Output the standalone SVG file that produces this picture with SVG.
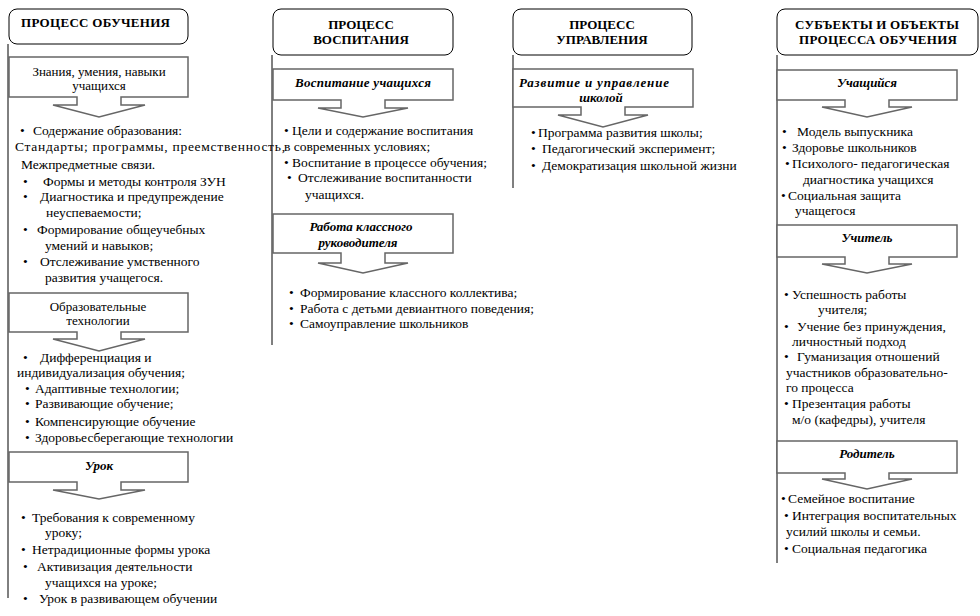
<svg xmlns="http://www.w3.org/2000/svg" width="980" height="616" viewBox="0 0 980 616" font-family="'Liberation Serif', 'Times New Roman', serif">
<style>
  text { font-family: "Liberation Serif", "Times New Roman", serif; font-size: 13.5px; fill: #000; }
  .h { font-weight: bold; font-size: 13px; }
  .c { text-anchor: middle; font-size: 13px; }
  .bi { font-weight: bold; font-style: italic; }
  .hdr { fill: #fff; stroke: #000; stroke-width: 1; }
  .call { fill: #fff; stroke: #666; stroke-width: 1.5; stroke-linejoin: miter; }
  .ln { stroke: #000; stroke-width: 1; fill: none; }
</style>
<rect width="980" height="616" fill="#fff"/>

<g id="connectors">
  <line class="ln" x1="8" y1="44" x2="8" y2="598"/>
  <line class="ln" x1="272" y1="55" x2="272" y2="345"/>
  <line class="ln" x1="513" y1="55" x2="513" y2="188"/>
  <line class="ln" x1="777" y1="55" x2="777" y2="563"/>
</g>

<!-- Column 1 -->
<g id="hdr-obuchenie">
  <rect class="hdr" x="9" y="9" width="179" height="35" rx="8"/>
  <text class="h" x="21" y="27" textLength="149">ПРОЦЕСС  ОБУЧЕНИЯ</text>
</g>
<g id="box-znaniya">
  <path class="call" d="M9 57 H188 V97 H121 V105 H145 L99 117 L53 105 H77 V97 H9 Z"/>
  <text class="c" x="99" y="76">Знания, умения, навыки</text>
  <text class="c" x="99" y="90">учащихся</text>
</g>
<g id="list-znaniya">
  <text x="20" y="135">•</text><text x="33" y="135">Содержание образования:</text>
  <text x="15" y="151" textLength="270">Стандарты; программы, преемственность,</text>
  <text x="21" y="169">Межпредметные связи.</text>
  <text x="23" y="186">•</text><text x="43" y="186">Формы и методы контроля ЗУН</text>
  <text x="23" y="201">•</text><text x="40" y="201">Диагностика и предупреждение</text>
  <text x="46" y="217">неуспеваемости;</text>
  <text x="23" y="234">•</text><text x="37" y="234">Формирование общеучебных</text>
  <text x="45" y="250">умений и навыков;</text>
  <text x="23" y="266">•</text><text x="40" y="266">Отслеживание умственного</text>
  <text x="45" y="282">развития  учащегося.</text>
</g>
<g id="box-tech">
  <path class="call" d="M9 293 H188 V332 H121 V339 H145 L99 351 L53 339 H77 V332 H9 Z"/>
  <text class="c" x="98" y="311">Образовательные</text>
  <text class="c" x="98" y="325">технологии</text>
</g>
<g id="list-tech">
  <text x="23" y="362">•</text><text x="40" y="362">Дифференциация  и</text>
  <text x="17" y="377">индивидуализация обучения;</text>
  <text x="25" y="393">•</text><text x="35" y="393">Адаптивные технологии;</text>
  <text x="25" y="408">•</text><text x="35" y="408">Развивающие обучение;</text>
  <text x="25" y="426">•</text><text x="35" y="426">Компенсирующие обучение</text>
  <text x="25" y="442">•</text><text x="35" y="442">Здоровьесберегающие технологии</text>
</g>
<g id="box-urok">
  <path class="call" d="M9 452 H188 V482 H121 V490 H145 L99 499 L53 490 H77 V482 H9 Z"/>
  <text class="c bi" x="99" y="470">Урок</text>
</g>
<g id="list-urok">
  <text x="21" y="522">•</text><text x="32" y="522">Требования к современному</text>
  <text x="45" y="537">уроку;</text>
  <text x="21" y="554">•</text><text x="32" y="554">Нетрадиционные формы урока</text>
  <text x="23" y="571">•</text><text x="37" y="571">Активизация деятельности</text>
  <text x="45" y="587">учащихся на уроке;</text>
  <text x="23" y="603">•</text><text x="39" y="603">Урок в развивающем обучении</text>
</g>

<!-- Column 2 -->
<g id="hdr-vospitanie">
  <rect class="hdr" x="273" y="9" width="180" height="46" rx="8"/>
  <text class="h c" x="361" y="29">ПРОЦЕСС</text>
  <text class="h c" x="361" y="44">ВОСПИТАНИЯ</text>
</g>
<g id="box-vosp-uch">
  <path class="call" d="M273 69 H453 V100 H385 V108 H408 L363 117 L318 108 H341 V100 H273 Z"/>
  <text class="c bi" x="363" y="87" textLength="136">Воспитание  учащихся</text>
</g>
<g id="list-vosp-uch">
  <text x="284" y="135">•</text><text x="292" y="135">Цели и содержание воспитания</text>
  <text x="284" y="151">в современных условиях;</text>
  <text x="284" y="167">•</text><text x="292" y="167">Воспитание в процессе обучения;</text>
  <text x="287" y="182">•</text><text x="298" y="182">Отслеживание воспитанности</text>
  <text x="305" y="199">учащихся.</text>
</g>
<g id="box-klass">
  <path class="call" d="M273 214 H453 V253 H385 V263 H408 L363 273 L318 263 H341 V253 H273 Z"/>
  <text class="c bi" x="361" y="231">Работа классного</text>
  <text class="c bi" x="358" y="247">руководителя</text>
</g>
<g id="list-klass">
  <text x="289" y="297">•</text><text x="300" y="297">Формирование классного коллектива;</text>
  <text x="289" y="313">•</text><text x="300" y="313">Работа с детьми девиантного поведения;</text>
  <text x="289" y="328">•</text><text x="300" y="328">Самоуправление школьников</text>
</g>

<!-- Column 3 -->
<g id="hdr-upravlenie">
  <rect class="hdr" x="513" y="9" width="179" height="46" rx="8"/>
  <text class="h c" x="602" y="29">ПРОЦЕСС</text>
  <text class="h c" x="602" y="44">УПРАВЛЕНИЯ</text>
</g>
<g id="box-razvitie">
  <path class="call" d="M513 69 H693 V107 H625 V115 H648 L603 127 L558 115 H581 V107 H513 Z"/>
  <text class="c bi" x="594" y="87" textLength="150">Развитие и управление</text>
  <text class="c bi" x="601" y="102">школой</text>
</g>
<g id="list-razvitie">
  <text x="531" y="137">•</text><text x="538" y="137">Программа развития школы;</text>
  <text x="531" y="153">•</text><text x="542" y="153">Педагогический эксперимент;</text>
  <text x="531" y="170">•</text><text x="542" y="170">Демократизация школьной жизни</text>
</g>

<!-- Column 4 -->
<g id="hdr-subekty">
  <rect class="hdr" x="777" y="9" width="201" height="46" rx="8"/>
  <text class="h" x="795" y="29" textLength="164">СУБЪЕКТЫ  И  ОБЪЕКТЫ</text>
  <text class="h" x="799" y="44" textLength="158">ПРОЦЕССА  ОБУЧЕНИЯ</text>
</g>
<g id="box-uchashchiysya">
  <path class="call" d="M777 70 H957 V100 H889 V107 H912 L867 117 L822 107 H845 V100 H777 Z"/>
  <text class="c bi" x="867" y="87">Учащийся</text>
</g>
<g id="list-uchashchiysya">
  <text x="782" y="136">•</text><text x="797" y="136">Модель выпускника</text>
  <text x="782" y="152">•</text><text x="792" y="152">Здоровье школьников</text>
  <text x="785" y="168">•</text><text x="792" y="168">Психолого- педагогическая</text>
  <text x="803" y="184">диагностика  учащихся</text>
  <text x="781" y="200">•</text><text x="788" y="200">Социальная защита</text>
  <text x="795" y="215">учащегося</text>
</g>
<g id="box-uchitel">
  <path class="call" d="M777 225 H957 V257 H889 V264 H912 L867 273 L822 264 H845 V257 H777 Z"/>
  <text class="c bi" x="867" y="242">Учитель</text>
</g>
<g id="list-uchitel">
  <text x="784" y="299">•</text><text x="792" y="299">Успешность работы</text>
  <text x="818" y="314">учителя;</text>
  <text x="784" y="331">•</text><text x="797" y="331">Учение без принуждения,</text>
  <text x="792" y="346">личностный подход</text>
  <text x="784" y="361">•</text><text x="797" y="361">Гуманизация отношений</text>
  <text x="786" y="377">участников образовательно-</text>
  <text x="786" y="392">го процесса</text>
  <text x="784" y="408">•</text><text x="792" y="408">Презентация работы</text>
  <text x="792" y="424">м/о (кафедры), учителя</text>
</g>
<g id="box-roditel">
  <path class="call" d="M777 441 H957 V473 H889 V479 H912 L867 489 L822 479 H845 V473 H777 Z"/>
  <text class="c bi" x="867" y="458">Родитель</text>
</g>
<g id="list-roditel">
  <text x="781" y="503">•</text><text x="788" y="503">Семейное воспитание</text>
  <text x="784" y="520">•</text><text x="792" y="520">Интеграция воспитательных</text>
  <text x="786" y="536">усилий школы и семьи.</text>
  <text x="784" y="553">•</text><text x="792" y="553">Социальная педагогика</text>
</g>
</svg>
